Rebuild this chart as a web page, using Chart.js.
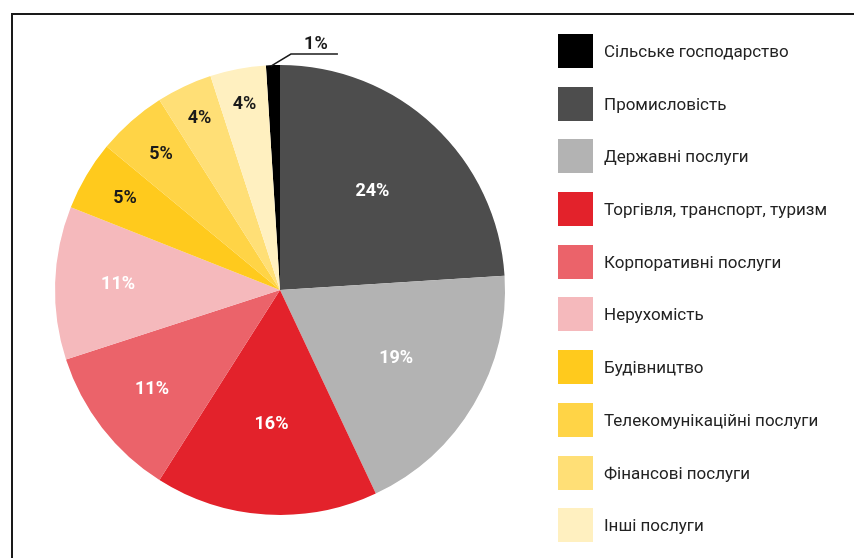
<!DOCTYPE html>
<html>
<head>
<meta charset="utf-8">
<script src="https://cdn.jsdelivr.net/npm/chart.js@4"></script>
<style>
  html, body { margin: 0; padding: 0; background: #fff; }
  body { width: 854px; height: 558px; position: relative; overflow: hidden; font-family: Roboto, sans-serif; }
  #frame { position: absolute; left: 11px; top: 13px; width: 900px; height: 600px; border-left: 2px solid #1a1a1a; border-top: 2px solid #1a1a1a; }
  #wrap { position: absolute; left: 0; top: 0; width: 854px; height: 558px; }
  #legend { position: absolute; left: 558px; top: 34px; margin: 0; padding: 0; list-style: none; }
  #legend li { height: 52.7px; display: flex; align-items: flex-start; }
  #legend .box { width: 35px; height: 34px; flex: none; }
  #legend .txt { margin-left: 11px; font-size: 17px; color: #222; line-height: 34px; white-space: nowrap; }
</style>
</head>
<body>
<div id="frame"></div>
<div id="wrap"><canvas id="myChart" width="854" height="558"></canvas></div>
<ul id="legend"></ul>
<script>
// секторы в порядку легенди
var sectors = [
  "Сільське господарство",
  "Промисловість",
  "Державні послуги",
  "Торгівля, транспорт, туризм",
  "Корпоративні послуги",
  "Нерухомість",
  "Будівництво",
  "Телекомунікаційні послуги",
  "Фінансові послуги",
  "Інші послуги"
];
var shares = [1, 24, 19, 16, 11, 11, 5, 5, 4, 4];
var colors = ["#000000", "#4d4d4d", "#b3b3b3", "#e3222b", "#eb636a", "#f5b9bc", "#ffca1d", "#ffd446", "#ffdf76", "#fff0c0"];
var textColors = ["#1a1a1a", "#fff", "#fff", "#fff", "#fff", "#fff", "#1a1a1a", "#1a1a1a", "#1a1a1a", "#1a1a1a"];

// legend
var ul = document.getElementById('legend');
sectors.forEach(function (name, i) {
  var li = document.createElement('li');
  li.innerHTML = '<span class="box" style="background:' + colors[i] + '"></span><span class="txt">' + name + '</span>';
  ul.appendChild(li);
});

var pctLabels = {
  id: 'pctLabels',
  afterDatasetsDraw(chart) {
    var ctx = chart.ctx;
    var meta = chart.getDatasetMeta(0);
    ctx.save();
    ctx.font = 'bold 18px Roboto';
    ctx.textAlign = 'center';
    ctx.textBaseline = 'middle';
    meta.data.forEach(function (arc, i) {
      var v = shares[i];
      var mid = (arc.startAngle + arc.endAngle) / 2;
      if (v < 2) {
        // маленький сектор - виноска
        var ex = arc.x + Math.cos(mid) * arc.outerRadius;
        var ey = arc.y + Math.sin(mid) * arc.outerRadius;
        ctx.strokeStyle = '#1a1a1a';
        ctx.lineWidth = 1.5;
        ctx.beginPath();
        ctx.moveTo(ex - 2, ey + 1);
        ctx.lineTo(ex + 18, ey - 11);
        ctx.lineTo(ex + 65, ey - 11);
        ctx.stroke();
        ctx.fillStyle = textColors[i];
        ctx.fillText(v + '%', ex + 43, ey - 21);
        return;
      }
      var f = v >= 15 ? 0.6 : (v >= 10 ? 0.72 : (v >= 5 ? 0.8 : 0.84));
      var r = arc.outerRadius * f;
      ctx.fillStyle = textColors[i];
      ctx.fillText(v + '%', arc.x + Math.cos(mid) * r, arc.y + Math.sin(mid) * r);
    });
    ctx.restore();
  }
};

var ctx = document.getElementById('myChart').getContext('2d');
var chart = new Chart(ctx, {
  type: 'pie',
  data: {
    labels: sectors,
    datasets: [{
      data: shares,
      backgroundColor: colors,
      borderWidth: 0
    }]
  },
  options: {
    responsive: false,
    animation: false,
    rotation: -3.6,
    layout: { padding: { left: 55, right: 349, top: 65, bottom: 43 } },
    plugins: {
      legend: { display: false },
      tooltip: { enabled: false }
    }
  },
  plugins: [pctLabels]
});
</script>
</body>
</html>
